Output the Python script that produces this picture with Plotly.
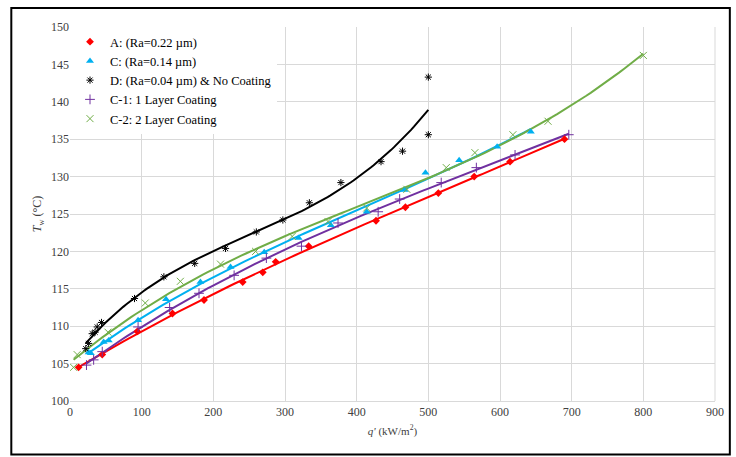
import numpy as np
import plotly.graph_objects as go

# Series A: Ra=0.22 um
a_q = [12, 45, 94, 143, 187, 241, 269, 287, 333, 427, 468, 514, 564, 614, 690]
a_t = [104.5, 106.2, 109.3, 111.7, 113.5, 115.9, 117.2, 118.6, 120.7, 124.1, 125.9, 127.8, 130.0, 132.0, 135.0]
# Series C: Ra=0.14 um
c_q = [26, 29, 47, 54, 95, 134, 182, 224, 271, 319, 364, 414, 467, 496, 543, 596, 643]
c_t = [106.5, 106.4, 107.9, 108.1, 110.8, 113.6, 115.9, 117.9, 119.9, 121.8, 123.5, 125.3, 128.2, 130.5, 132.2, 134.0, 136.0]
# Series D: Ra=0.04 um & no coating
d_q = [22, 26, 31, 35, 38, 44, 90, 131, 174, 217, 260, 297, 334, 378, 434, 464, 500, 500]
d_t = [107.0, 107.7, 109.0, 109.2, 109.9, 110.5, 113.7, 116.6, 118.4, 120.4, 122.6, 124.2, 126.5, 129.2, 132.0, 133.4, 135.6, 143.3]
# Series C-1: 1 layer coating
c1_q = [23, 33, 45, 95, 139, 180, 229, 274, 323, 374, 430, 460, 518, 567, 621, 696]
c1_t = [104.8, 105.5, 106.6, 109.9, 112.5, 114.4, 116.8, 119.1, 120.7, 123.8, 125.3, 127.0, 129.2, 131.2, 132.9, 135.6]
# Series C-2: 2 layer coating
c2_q = [5, 10, 53, 105, 154, 210, 259, 310, 360, 414, 470, 525, 565, 618, 667, 800]
c2_t = [104.5, 106.2, 109.2, 113.1, 116.0, 118.3, 120.0, 122.0, 124.0, 125.8, 128.3, 131.2, 133.2, 135.6, 137.4, 146.2]

names = ["A: (Ra=0.22 µm)", "C: (Ra=0.14 µm)", "D: (Ra=0.04 µm) & No Coating",
         "C-1: 1 Layer Coating", "C-2: 2 Layer Coating"]
colors = ["#ff0000", "#00b0f0", "#000000", "#7030a0", "#70ad47"]
symbols = ["diamond", "triangle-up", "asterisk-open", "cross-thin-open", "x-thin-open"]
sizes = [6, 7, 6, 7, 7]
data = [(a_q, a_t), (c_q, c_t), (d_q, d_t), (c1_q, c1_t), (c2_q, c2_t)]

fig = go.Figure()
# polynomial trendlines (as in spreadsheet)
for (q, t), col in zip(data, colors):
    q = np.array(q, float); t = np.array(t, float)
    p = np.polyfit(q, t, 3)
    xs = np.linspace(q.min(), q.max(), 120)
    fig.add_trace(go.Scatter(x=xs, y=np.polyval(p, xs), mode="lines",
                             line=dict(color=col, width=2), showlegend=False,
                             hoverinfo="skip"))
for (q, t), n, col, s, sz in zip(data, names, colors, symbols, sizes):
    mline = dict(color=col, width=1) if "open" in s else dict(width=0)
    fig.add_trace(go.Scatter(x=q, y=t, mode="markers", name=n,
                             marker=dict(color=col, symbol=s, size=sz, line=mline)))

font = "Liberation Serif, Times New Roman, serif"
fig.update_layout(
    width=736, height=457,
    margin=dict(l=70, r=18, t=27, b=56),
    paper_bgcolor="white", plot_bgcolor="white",
    font=dict(family=font, size=12, color="#404040"),
    legend=dict(x=0.0, y=1.0, xanchor="left", yanchor="top",
                bgcolor="white", font=dict(family=font, size=12.5, color="#000000"),
                tracegroupgap=0, itemwidth=30),
    showlegend=True,
)
fig.update_xaxes(range=[0, 900], dtick=100, showgrid=True, gridcolor="#d9d9d9",
                 gridwidth=1, showline=True, linecolor="#d9d9d9", zeroline=False,
                 ticks="", tickfont=dict(family=font, size=12, color="#404040"),
                 title=dict(text="<i>q'</i> (kW/m<sup>2</sup>)", standoff=8,
                            font=dict(family=font, size=11, color="#404040")))
fig.update_yaxes(range=[100, 150], dtick=5, showgrid=True, gridcolor="#d9d9d9",
                 gridwidth=1, showline=False, zeroline=False, ticks="",
                 tickfont=dict(family=font, size=12, color="#404040"),
                 title=dict(text="<i>T</i><sub>w</sub> (°C)", standoff=6,
                            font=dict(family=font, size=12, color="#404040")))
# outer black frame and right gridline border
fig.add_shape(type="rect", xref="paper", yref="paper",
              x0=-0.091, x1=1.023, y0=-0.143, y1=1.051,
              line=dict(color="black", width=2), fillcolor="rgba(0,0,0,0)")
fig.add_shape(type="line", xref="paper", yref="paper", x0=1, x1=1, y0=0, y1=1,
              line=dict(color="#d9d9d9", width=1))

fig.write_html("out.html")
